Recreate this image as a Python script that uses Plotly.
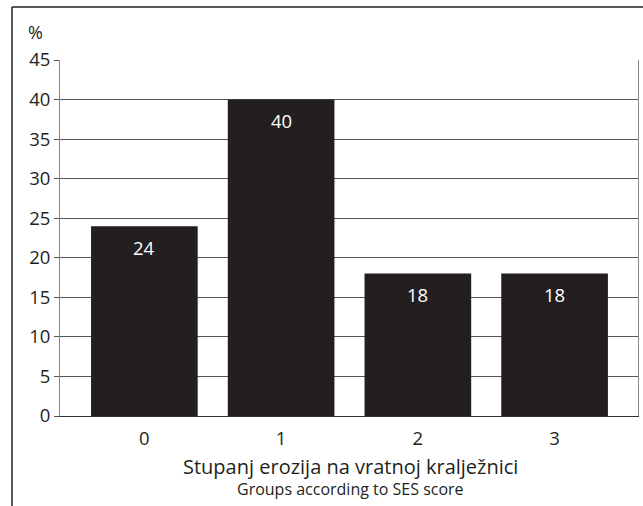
import plotly.graph_objects as go

categories = ["0", "1", "2", "3"]
values = [24, 40, 18, 18]
y_ticks = [0, 5, 10, 15, 20, 25, 30, 35, 40, 45]

FONT = "Open Sans"
BAR = "#231f20"

W, H = 643, 506
L, R, T, B = 60, 5, 60, 90
pw, ph = W - L - R, H - T - B

def px(x):
    return (x - L) / pw

def py(y):
    return (H - B - y) / ph

fig = go.Figure()
fig.add_trace(go.Bar(
    x=list(range(len(categories))), y=values,
    marker=dict(color=BAR, line=dict(width=0)),
    width=0.78, showlegend=False, hoverinfo="skip",
))

annotations = []
for i, v in enumerate(values):
    annotations.append(dict(x=i, y=v, xref="x", yref="y", text=str(v),
                            showarrow=False, yshift=-21, xanchor="center", yanchor="middle",
                            font=dict(family=FONT, size=18.5, color="white")))
annotations.append(dict(x=px(35), y=py(32), xref="paper", yref="paper", text="%",
                        showarrow=False, xanchor="center", yanchor="middle",
                        font=dict(family=FONT, size=18, color="#231f20")))
annotations.append(dict(x=px(350), y=py(466), xref="paper", yref="paper",
                        text="Stupanj erozija na vratnoj kralježnici",
                        showarrow=False, xanchor="center", yanchor="middle",
                        font=dict(family=FONT, size=20, color="#231f20")))
annotations.append(dict(x=px(350), y=py(489), xref="paper", yref="paper",
                        text="Groups according to SES score",
                        showarrow=False, xanchor="center", yanchor="middle",
                        font=dict(family=FONT, size=16, color="#231f20")))

shapes = [
    dict(type="line", xref="paper", yref="paper", x0=px(12), x1=px(12), y0=py(7), y1=py(520),
         line=dict(color="#231f20", width=1.5)),
    dict(type="line", xref="paper", yref="paper", x0=px(12), x1=px(660), y0=py(7), y1=py(7),
         line=dict(color="#231f20", width=1.5)),
]

fig.update_layout(
    width=W, height=H,
    margin=dict(l=L, r=R, t=T, b=B),
    paper_bgcolor="white", plot_bgcolor="white",
    font=dict(family=FONT, size=18.5, color="#231f20"),
    annotations=annotations, shapes=shapes,
    xaxis=dict(
        tickmode="array", tickvals=list(range(len(categories))), ticktext=categories,
        range=[-0.617, 3.61], showgrid=False, zeroline=False,
        showline=True, linecolor="#333333", linewidth=1, ticks="",
        tickfont=dict(size=18.5), fixedrange=True, ticklabelstandoff=6,
    ),
    yaxis=dict(
        range=[0, 45], tickmode="array", tickvals=y_ticks,
        showgrid=True, gridcolor="#555555", gridwidth=1, zeroline=False,
        showline=True, linecolor="#888888", linewidth=1, mirror=True,
        ticks="outside", ticklen=5, tickcolor="#555555",
        tickfont=dict(size=18.5), fixedrange=True,
    ),
)

fig.write_html("out.html", config={"displayModeBar": False},
               post_script="document.body.style.margin='0';")
